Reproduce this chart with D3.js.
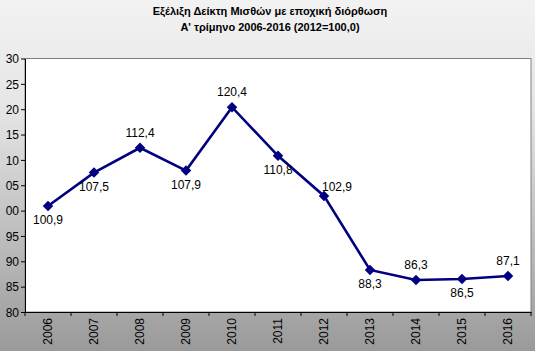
<!DOCTYPE html>
<html><head><meta charset="utf-8">
<script src="https://cdn.jsdelivr.net/npm/d3@7"></script>
<style>body{margin:0;padding:0;overflow:hidden}svg{display:block}</style>
</head><body>
<script>
const years = ["2006","2007","2008","2009","2010","2011","2012","2013","2014","2015","2016"];
const values = [100.9,107.5,112.4,107.9,120.4,110.8,102.9,88.3,86.3,86.5,87.1];
const valueLabels = ["100,9","107,5","112,4","107,9","120,4","110,8","102,9","88,3","86,3","86,5","87,1"];
const labelPos = ["below","below","above","below","above","below","aboveRight","below","above","below","above"];
const yTicks = [80,85,90,95,100,105,110,115,120,125,130];
const yTickLabels = ["80","85","90","95","00","05","10","15","20","25","30"];
const titleLines = ["Εξέλιξη Δείκτη Μισθών με εποχική διόρθωση","Α' τρίμηνο 2006-2016 (2012=100,0)"];

const W=535,H=351;
const m={left:25,right:531,top:58.5,bottom:312};
const svg=d3.select("body").append("svg").attr("width",W).attr("height",H);
const defs=svg.append("defs");
const g=defs.append("linearGradient").attr("id","bg").attr("x1",0).attr("y1",0).attr("x2",0).attr("y2",1);
g.append("stop").attr("offset","0%").attr("stop-color","#f2f2f2");
g.append("stop").attr("offset","30%").attr("stop-color","#e6e6e6");
g.append("stop").attr("offset","100%").attr("stop-color","#9a9a9a");
svg.append("rect").attr("width",W).attr("height",H).attr("fill","url(#bg)");

const font="Liberation Sans, Arial, sans-serif";
svg.selectAll("text.title").data(titleLines).enter().append("text")
 .attr("x",270).attr("y",(d,i)=>15+i*16).attr("text-anchor","middle")
 .attr("font-family",font).attr("font-weight","bold").attr("font-size",11).attr("fill","#000").text(d=>d);

const x=d3.scaleBand().domain(years).range([m.left,m.right]);
const y=d3.scaleLinear().domain([80,130]).range([m.bottom,m.top]);

svg.append("rect").attr("x",m.left).attr("y",m.top).attr("width",m.right-m.left).attr("height",m.bottom-m.top)
 .attr("fill","#fff").attr("stroke","#808080").attr("stroke-width",1);

const yAxis=svg.append("g").attr("transform",`translate(${m.left},0)`)
 .call(d3.axisLeft(y).tickValues(yTicks).tickSize(4).tickSizeOuter(0).tickFormat((d,i)=>yTickLabels[i]));
yAxis.selectAll("text").attr("font-family",font).attr("font-size",12).attr("fill","#000").attr("dx","1").attr("dy","0.35em");
yAxis.select(".domain").attr("stroke","#000");
yAxis.selectAll(".tick line").attr("stroke","#000");

const xAxis=svg.append("g").attr("transform",`translate(0,${m.bottom})`)
 .call(d3.axisBottom(x).tickSize(0).tickSizeOuter(0));
xAxis.select(".domain").attr("stroke","#000");
xAxis.selectAll("text").attr("font-family",font).attr("font-size",12).attr("fill","#000")
 .attr("transform","rotate(-90)").attr("text-anchor","end").attr("x",-6).attr("y",0).attr("dy","0.35em");
// tick marks at band boundaries
const bounds=years.map(d=>x(d)).concat([m.right]);
svg.append("g").selectAll("line").data(bounds).enter().append("line")
 .attr("x1",d=>d).attr("x2",d=>d).attr("y1",m.bottom).attr("y2",m.bottom+4).attr("stroke","#000");

const cx=d=>x(d)+x.bandwidth()/2;
const line=d3.line().x((d,i)=>cx(years[i])).y(d=>y(d));
svg.append("path").datum(values).attr("d",line).attr("fill","none").attr("stroke","#000080").attr("stroke-width",2.6);
svg.selectAll("path.pt").data(values).enter().append("path")
 .attr("d",d3.symbol().type(d3.symbolDiamond2).size(70))
 .attr("transform",(d,i)=>`translate(${cx(years[i])},${y(d)})`).attr("fill","#000080");

svg.selectAll("text.lbl").data(values).enter().append("text")
 .attr("font-family",font).attr("font-size",12).attr("fill","#000").attr("text-anchor","middle")
 .attr("x",(d,i)=>cx(years[i])+(labelPos[i]==="aboveRight"?13:0))
 .attr("y",(d,i)=>y(d)+(labelPos[i]==="below"?18:(labelPos[i]==="aboveRight"?-5:-11)))
 .text((d,i)=>valueLabels[i]);
</script>
</body></html>
